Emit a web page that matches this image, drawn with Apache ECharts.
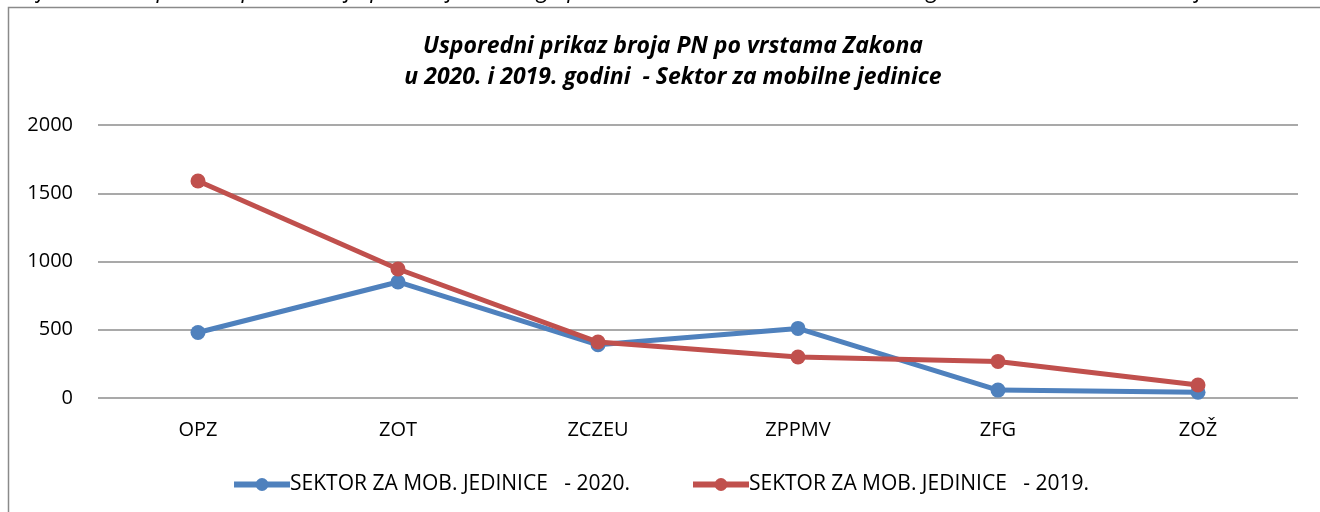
<!DOCTYPE html>
<html>
<head>
<meta charset="utf-8">
<script src="https://cdn.jsdelivr.net/npm/echarts@6/dist/echarts.min.js"></script>
<style>
  html, body { margin: 0; padding: 0; background: #fff; }
  #chart { width: 1320px; height: 512px; }
</style>
</head>
<body>
<div id="chart"></div>
<script>
// Categories (types of law) and yearly counts
const categories = ['OPZ', 'ZOT', 'ZCZEU', 'ZPPMV', 'ZFG', 'ZOŽ'];
const values2020 = [480, 850, 390, 510, 58, 42];
const values2019 = [1590, 945, 410, 300, 268, 95];
const yTicks = { min: 0, max: 2000, interval: 500 };

const seriesName2020 = 'SEKTOR ZA MOB. JEDINICE   - 2020.';
const seriesName2019 = 'SEKTOR ZA MOB. JEDINICE   - 2019.';

const font = '"Open Sans", "Liberation Sans", sans-serif';
const blue = '#4F81BD';
const red = '#C0504D';

const chart = echarts.init(document.getElementById('chart'), null, { renderer: 'canvas' });

chart.setOption({
  animation: false,
  backgroundColor: '#fff',
  graphic: [
    {
      type: 'rect',
      shape: { x: 8.5, y: 7.5, width: 1400, height: 600 },
      style: { fill: 'none', stroke: '#8a8a8a', lineWidth: 1.5 },
      silent: true
    },
    {
      type: 'text',
      left: 0,
      top: -21,
      style: {
        text: 'Grafikon 14. Usporedni prikaz broja prekršajnih naloga po vrstama Zakona u 2020. i 2019. godini - Sektor za mobilne jedinice',
        font: 'italic 23px ' + font,
        fill: '#000'
      },
      silent: true
    }
  ],
  title: {
    text: 'Usporedni prikaz broja PN po vrstama Zakona\nu 2020. i 2019. godini  - Sektor za mobilne jedinice',
    left: 668,
    textAlign: 'center',
    top: 26,
    textStyle: {
      fontFamily: font,
      fontSize: 23,
      fontWeight: 'bold',
      fontStyle: 'italic',
      color: '#000',
      lineHeight: 31
    }
  },
  legend: {
    bottom: 12,
    left: 'center',
    itemWidth: 56,
    itemHeight: 16,
    itemGap: 60,
    lineStyle: { width: 6 },
    textStyle: { fontFamily: font, fontSize: 21, color: '#000', padding: [0, 0, 0, -5] },
    data: [seriesName2020, seriesName2019]
  },
  grid: {
    left: 98,
    right: 22,
    top: 125,
    bottom: 114,
    containLabel: false
  },
  xAxis: {
    type: 'category',
    data: categories,
    boundaryGap: true,
    axisLine: { show: false },
    axisTick: { show: false },
    axisLabel: { fontFamily: font, fontSize: 20, color: '#000', margin: 22 }
  },
  yAxis: {
    type: 'value',
    min: yTicks.min,
    max: yTicks.max,
    interval: yTicks.interval,
    axisLine: { show: false },
    axisTick: { show: false },
    axisLabel: {
      fontFamily: font, fontSize: 20, color: '#000', margin: 25,
      formatter: v => String(v)
    },
    splitLine: { lineStyle: { color: '#8c8c8c', width: 1.5 } }
  },
  series: [
    {
      name: seriesName2020,
      type: 'line',
      data: values2020,
      symbol: 'circle',
      symbolSize: 15,
      lineStyle: { width: 5, color: blue },
      itemStyle: { color: blue },
      z: 2
    },
    {
      name: seriesName2019,
      type: 'line',
      data: values2019,
      symbol: 'circle',
      symbolSize: 15,
      lineStyle: { width: 5, color: red },
      itemStyle: { color: red },
      z: 3
    }
  ]
});
</script>
</body>
</html>
